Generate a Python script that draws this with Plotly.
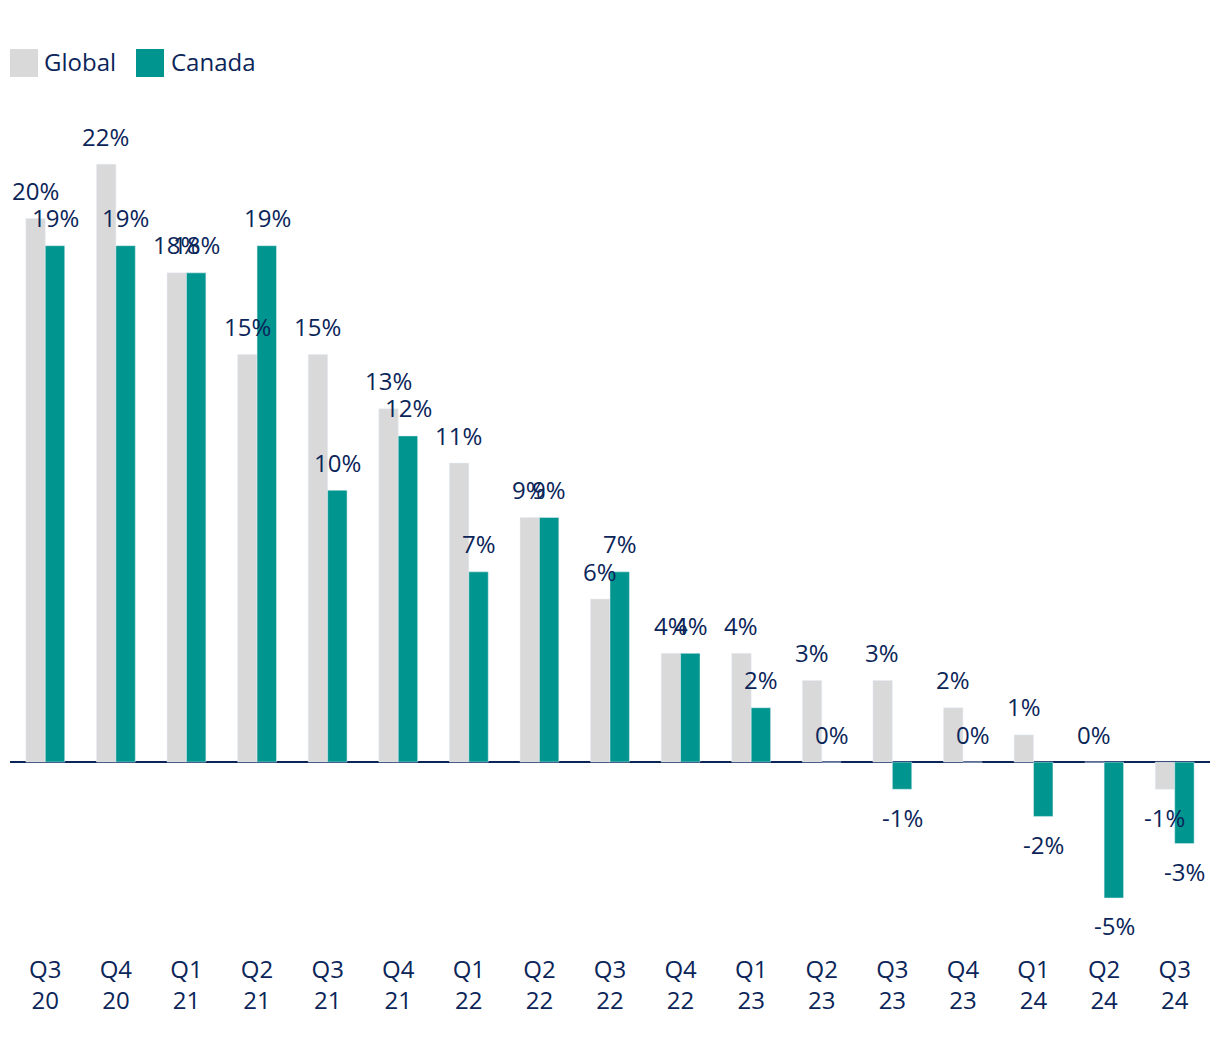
import plotly.graph_objects as go

categories = ["Q3<br>20", "Q4<br>20", "Q1<br>21", "Q2<br>21", "Q3<br>21", "Q4<br>21",
              "Q1<br>22", "Q2<br>22", "Q3<br>22", "Q4<br>22", "Q1<br>23", "Q2<br>23",
              "Q3<br>23", "Q4<br>23", "Q1<br>24", "Q2<br>24", "Q3<br>24"]
global_vals = [20, 22, 18, 15, 15, 13, 11, 9, 6, 4, 4, 3, 3, 2, 1, 0, -1]
canada_vals = [19, 19, 18, 19, 10, 12, 7, 9, 7, 4, 2, 0, -1, 0, -2, -5, -3]

NAVY = "#0b2559"
GRAY = "#d9d9d9"
TEAL = "#00968f"
FONT = "Open Sans"
FS = 24

fig = go.Figure()
fig.add_trace(go.Bar(x=categories, y=global_vals, name="Global", marker_color=GRAY,
                     showlegend=False, hoverinfo="skip"))
fig.add_trace(go.Bar(x=categories, y=canada_vals, name="Canada", marker_color=TEAL,
                     showlegend=False, hoverinfo="skip"))

annotations = []
for vals, dx in ((global_vals, -10), (canada_vals, 10)):
    for c, v in zip(categories, vals):
        annotations.append(dict(x=c, y=v, xref="x", yref="y", text=f"{v}%",
                                showarrow=False, xshift=dx,
                                yshift=28 if v >= 0 else -28,
                                yanchor="middle", xanchor="center",
                                font=dict(family=FONT, size=FS, color=NAVY)))

# custom legend (plot area spans screen x 10..1210, y 100..945)
shapes = []
legend_items = [("Global", GRAY, 10, 42), ("Canada", TEAL, 136, 169)]
W, H = 1220, 1040
for name, col, sx, tx in legend_items:
    shapes.append(dict(type="rect", xref="paper", yref="paper",
                       x0=(sx - 10) / 1200, x1=(sx + 28 - 10) / 1200,
                       y0=(945 - 77) / 845, y1=(945 - 49) / 845,
                       fillcolor=col, line=dict(width=0)))
    annotations.append(dict(x=(tx - 10) / 1200, y=(945 - 62) / 845, xref="paper", yref="paper",
                            text=name, showarrow=False, xanchor="left", yanchor="middle",
                            font=dict(family=FONT, size=FS, color=NAVY)))

fig.update_layout(
    width=W, height=H,
    margin=dict(l=2, r=18, t=92, b=103),
    paper_bgcolor="white", plot_bgcolor="white",
    barmode="group", bargap=0.45, bargroupgap=0,
    font=dict(family=FONT, size=FS, color=NAVY),
    annotations=annotations, shapes=shapes,
    showlegend=False,
)
fig.update_xaxes(showgrid=False, showline=False, ticks="", range=[-0.5, 16.5],
                 ticklabelstandoff=8,
                 tickfont=dict(family=FONT, size=FS, color=NAVY))
fig.update_yaxes(range=[-6.73, 24.36], showgrid=False, showticklabels=False,
                 zeroline=True, zerolinecolor=NAVY, zerolinewidth=2)

fig.write_html("out.html")
